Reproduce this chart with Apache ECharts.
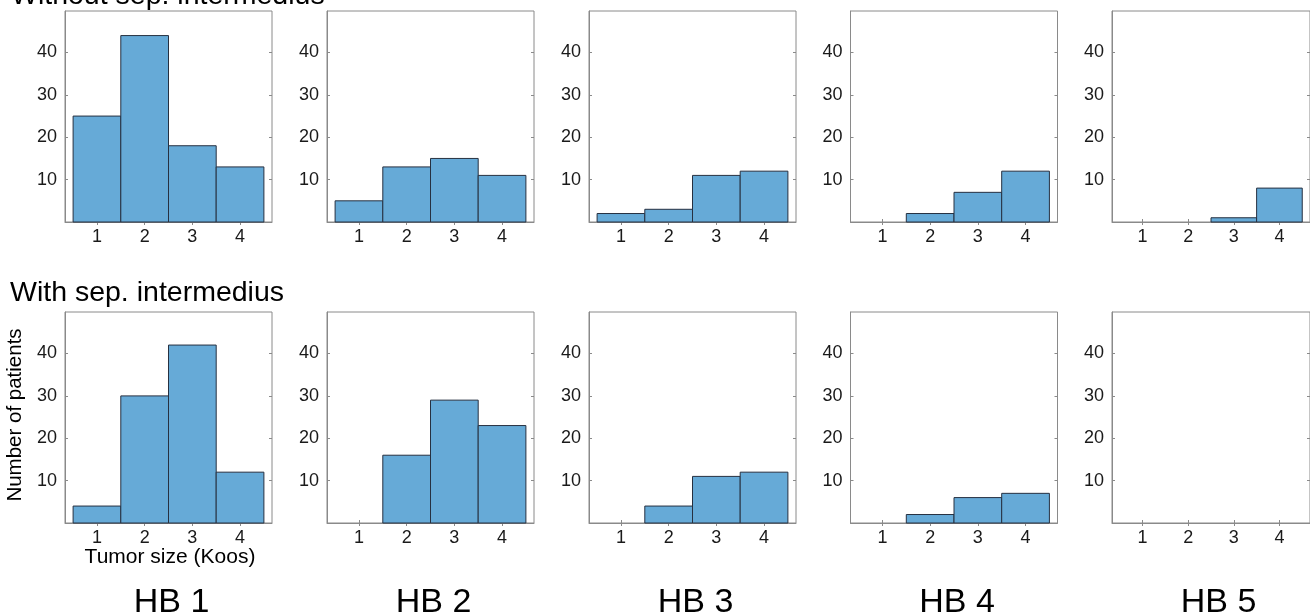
<!DOCTYPE html>
<html>
<head>
<meta charset="utf-8">
<script src="https://cdn.jsdelivr.net/npm/echarts@6/dist/echarts.min.js"></script>
<style>
html,body{margin:0;padding:0;background:#fff;}
#main{width:1310px;height:615px;}
</style>
</head>
<body>
<div id="main"></div>
<script>
// ---- data ----
const koosCategories = [1, 2, 3, 4];
const hbLabels = ['HB 1', 'HB 2', 'HB 3', 'HB 4', 'HB 5'];
const yTickValues = [10, 20, 30, 40];
const rowTitles = ['Without sep. intermedius', 'With sep. intermedius'];

// Without sep. intermedius (top row)
const withoutHB1 = [25, 44, 18, 13];
const withoutHB2 = [5, 13, 15, 11];
const withoutHB3 = [2, 3, 11, 12];
const withoutHB4 = [0, 2, 7, 12];
const withoutHB5 = [0, 0, 1, 8];
// With sep. intermedius (bottom row)
const withHB1 = [4, 30, 42, 12];
const withHB2 = [0, 16, 29, 23];
const withHB3 = [0, 4, 11, 12];
const withHB4 = [0, 2, 6, 7];
const withHB5 = [0, 0, 0, 0];

const rows = [
  [withoutHB1, withoutHB2, withoutHB3, withoutHB4, withoutHB5],
  [withHB1, withHB2, withHB3, withHB4, withHB5]
];

// ---- layout ----
const FONT = "'Liberation Sans', Arial, Helvetica, sans-serif";
const plotLefts = [65, 327, 589, 850.5, 1112];
const plotWidth = 207;
const rowTops = [11, 312];
const plotHeight = 211;
const boxColor = '#8a8a8a';

const grids = [], xAxes = [], yAxes = [], series = [];
let gi = 0;
rows.forEach((row, r) => {
  row.forEach((vals, c) => {
    grids.push({
      left: plotLefts[c], top: rowTops[r], width: plotWidth, height: plotHeight,
      show: true, borderColor: boxColor, borderWidth: 1, backgroundColor: '#fff'
    });
    const tickCommon = { show: true, inside: true, length: 3, lineStyle: { color: boxColor } };
    xAxes.push({
      type: 'value', gridIndex: gi, min: 0.33, max: 4.67, position: 'bottom',
      axisLine: { show: true, onZero: false, lineStyle: { color: boxColor } },
      axisTick: Object.assign({ customValues: koosCategories }, tickCommon),
      axisLabel: { show: true, customValues: koosCategories, color: '#1a1a1a', fontFamily: FONT, fontSize: 18, margin: 6 },
      splitLine: { show: false }
    });
    xAxes.push({
      type: 'value', gridIndex: gi, min: 0.33, max: 4.67, position: 'top',
      axisLine: { show: false },
      axisTick: Object.assign({ customValues: koosCategories }, tickCommon),
      axisLabel: { show: false }, splitLine: { show: false }
    });
    yAxes.push({
      type: 'value', gridIndex: gi, min: 0, max: 49.8, position: 'left',
      axisLine: { show: true, lineStyle: { color: boxColor } },
      axisTick: Object.assign({ customValues: yTickValues }, tickCommon),
      axisLabel: { show: true, customValues: yTickValues, color: '#1a1a1a', fontFamily: FONT, fontSize: 18, margin: 8 },
      splitLine: { show: false }
    });
    yAxes.push({
      type: 'value', gridIndex: gi, min: 0, max: 49.8, position: 'right',
      axisLine: { show: false },
      axisTick: Object.assign({ customValues: yTickValues }, tickCommon),
      axisLabel: { show: false }, splitLine: { show: false }
    });
    series.push({
      type: 'custom',
      xAxisIndex: gi * 2, yAxisIndex: gi * 2,
      data: koosCategories.map((k, i) => [k, vals[i]]),
      renderItem: function (params, api) {
        const x = api.value(0), y = api.value(1);
        if (!y) return null;
        const p0 = api.coord([x - 0.5, y]);
        const p1 = api.coord([x + 0.5, 0]);
        return {
          type: 'rect',
          shape: { x: p0[0], y: p0[1], width: p1[0] - p0[0], height: p1[1] - p0[1] },
          style: { fill: '#66aad7', stroke: '#263040', lineWidth: 1 }
        };
      },
      silent: true, z: 1
    });
    gi++;
  });
});

const graphics = [
  { type: 'text', left: 11, top: -18, style: { text: rowTitles[0], font: '28.5px ' + FONT, fill: '#000' } },
  { type: 'text', left: 10, top: 279, style: { text: rowTitles[1], font: '28.5px ' + FONT, fill: '#000' } },
  { type: 'text', x: 15.5, y: 415, rotation: Math.PI / 2,
    style: { text: 'Number of patients', font: '20.5px ' + FONT, fill: '#000', textAlign: 'center', textVerticalAlign: 'middle' } },
  { type: 'text', x: 170, y: 557,
    style: { text: 'Tumor size (Koos)', font: '21px ' + FONT, fill: '#000', textAlign: 'center', textVerticalAlign: 'middle' } }
];
hbLabels.forEach((lab, c) => {
  graphics.push({ type: 'text', x: plotLefts[c] + plotWidth / 2 + 3, y: 603,
    style: { text: lab, font: '34px ' + FONT, fill: '#000', textAlign: 'center', textVerticalAlign: 'middle' } });
});

const chart = echarts.init(document.getElementById('main'), null, { renderer: 'canvas' });
chart.setOption({
  animation: false,
  backgroundColor: '#fff',
  grid: grids,
  xAxis: xAxes,
  yAxis: yAxes,
  series: series,
  graphic: graphics
});
</script>
</body>
</html>
